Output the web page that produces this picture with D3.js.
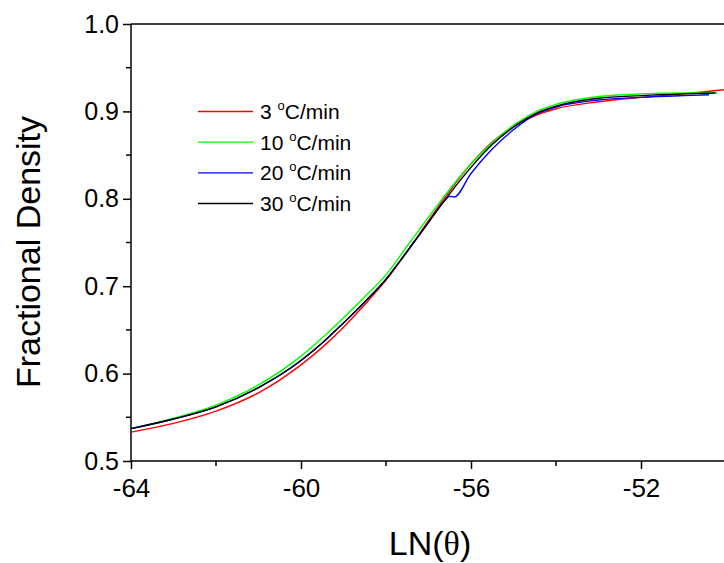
<!DOCTYPE html>
<html>
<head>
<meta charset="utf-8">
<script src="https://cdn.jsdelivr.net/npm/d3@7"></script>
<style>
    body { margin: 0; background: #fff; }
    text { font-family: Arial, "Liberation Sans", sans-serif; fill: #000; }
</style>
</head>
<body>
<div id="visualizationTarget"></div>
<script>
var lnTheta3 = [-64, -63, -62, -61, -60, -59.5, -59, -58.5, -58, -57.5, -57, -56.5, -56, -55.5, -55, -54.5, -54, -53, -52, -51, -50];
var density3 = [0.533, 0.543, 0.557, 0.578, 0.610, 0.630, 0.653, 0.679, 0.707, 0.740, 0.775, 0.809, 0.840, 0.865, 0.883, 0.895, 0.903, 0.911, 0.916, 0.920, 0.925];

var lnTheta10 = [-64, -63, -62, -61, -60, -59.5, -59, -58.5, -58, -57.5, -57, -56.5, -56, -55.5, -55, -54.5, -54, -53, -52, -51, -50.2];
var density10 = [0.537, 0.549, 0.564, 0.587, 0.620, 0.641, 0.664, 0.688, 0.713, 0.746, 0.779, 0.811, 0.840, 0.864, 0.884, 0.899, 0.908, 0.917, 0.920, 0.921, 0.921];

var lnTheta20 = [-64, -63, -62, -61, -60, -59.5, -59, -58.5, -58, -57.5, -57, -56.6, -56.5, -56.4, -56, -55.5, -55, -54.5, -54, -53, -52, -51, -50.4];
var density20 = [0.537, 0.548, 0.562, 0.584, 0.615, 0.635, 0.658, 0.682, 0.708, 0.740, 0.773, 0.799, 0.803, 0.802, 0.829, 0.857, 0.879, 0.896, 0.905, 0.913, 0.916, 0.918, 0.919];

var lnTheta30 = [-64, -63, -62, -61, -60, -59.5, -59, -58.5, -58, -57.5, -57, -56.5, -56, -55.5, -55, -54.5, -54, -53, -52, -51, -50.25];
var density30 = [0.537, 0.548, 0.562, 0.584, 0.615, 0.635, 0.658, 0.682, 0.708, 0.740, 0.773, 0.806, 0.836, 0.862, 0.882, 0.897, 0.906, 0.915, 0.918, 0.920, 0.921];

var seriesRates = ["3", "10", "20", "30"];
var seriesColors = ["#ff0000", "#00ff00", "#0000ff", "#000000"];

var xMajorTicks = [-64, -60, -56, -52];
var xMinorTicks = [-62, -58, -54, -50];
var yMajorTicks = [0.5, 0.6, 0.7, 0.8, 0.9, 1.0];
var yMinorTicks = [0.55, 0.65, 0.75, 0.85, 0.95];

var width = 724;
var height = 563;

var x = d3.scaleLinear().domain([-64, -50]).range([131, 726]);
var y = d3.scaleLinear().domain([0.5, 1.0]).range([461, 24]);

var svg = d3.select("#visualizationTarget")
    .append("svg")
    .attr("width", width)
    .attr("height", height);

// top frame line
svg.append("line")
    .attr("x1", x(-64)).attr("x2", width + 5)
    .attr("y1", y(1.0)).attr("y2", y(1.0))
    .attr("stroke", "#000").attr("stroke-width", 1.5);

// left axis
var yAxis = svg.append("g")
    .attr("transform", "translate(" + x(-64) + ",0)")
    .call(d3.axisLeft(y).tickValues(yMajorTicks).tickSize(8).tickPadding(4)
        .tickFormat(d3.format(".1f")));
yAxis.selectAll("text").style("font-size", "25px");
yAxis.append("g")
    .selectAll("line")
    .data(yMinorTicks)
    .enter()
        .append("line")
        .attr("x1", -5).attr("x2", 0)
        .attr("y1", function(d){ return y(d); })
        .attr("y2", function(d){ return y(d); })
        .attr("stroke", "#000").attr("stroke-width", 1.5);

// bottom axis, plain hyphen for the minus sign like the original
var xAxis = svg.append("g")
    .attr("transform", "translate(0," + y(0.5) + ")")
    .call(d3.axisBottom(x).tickValues(xMajorTicks).tickSize(8).tickPadding(10)
        .tickFormat(function(d){ return String(d); }));
xAxis.selectAll("text").style("font-size", "26px");
xAxis.append("g")
    .selectAll("line")
    .data(xMinorTicks)
    .enter()
        .append("line")
        .attr("x1", function(d){ return x(d); })
        .attr("x2", function(d){ return x(d); })
        .attr("y1", 0).attr("y2", 5)
        .attr("stroke", "#000").attr("stroke-width", 1.5);

svg.selectAll(".domain").attr("stroke-width", 1.5);
svg.selectAll(".tick line").attr("stroke-width", 1.5);
// drop the outer end caps of the domain paths
yAxis.select(".domain").attr("d", "M0," + y(1.0) + "V" + y(0.5));
xAxis.select(".domain").attr("d", "M" + x(-64) + ",0H" + (width + 5));

var line = d3.line()
    .x(function(d){ return x(d[0]); })
    .y(function(d){ return y(d[1]); })
    .curve(d3.curveMonotoneX);

var curves = [
    d3.zip(lnTheta3, density3),
    d3.zip(lnTheta10, density10),
    d3.zip(lnTheta20, density20),
    d3.zip(lnTheta30, density30)
];

svg.append("g")
    .selectAll("path")
    .data(curves)
    .enter()
        .append("path")
        .attr("fill", "none")
        .attr("stroke", function(d, i){ return seriesColors[i]; })
        .attr("stroke-width", 1.4)
        .attr("d", function(d){ return line(d); });

// legend
var legendRows = seriesRates.map(function(r, i){ return {rate: r, color: seriesColors[i], row: i}; });
var rowY = d3.scaleLinear().domain([0, 3]).range([111.5, 203.5]);

var legend = svg.append("g").attr("class", "legend");

legend.selectAll("line.key")
    .data(legendRows)
    .enter()
        .append("line")
        .attr("class", "key")
        .attr("x1", 198).attr("x2", 253)
        .attr("y1", function(d){ return rowY(d.row); })
        .attr("y2", function(d){ return rowY(d.row); })
        .style("stroke", function(d){ return d.color; })
        .style("stroke-width", 1.3);

var labels = legend.selectAll("text.key")
    .data(legendRows)
    .enter()
        .append("text")
        .attr("class", "key")
        .attr("x", 260)
        .attr("y", function(d){ return rowY(d.row) + 7.5; })
        .style("font-size", "21px");
labels.append("tspan").text(function(d){ return d.rate + " "; });
labels.append("tspan").attr("dy", -9).style("font-size", "13px").text("o");
labels.append("tspan").attr("dy", 9).text("C/min");

// axis titles
svg.append("text")
    .attr("transform", "translate(40,252) rotate(-90)")
    .attr("text-anchor", "middle")
    .style("font-size", "34px")
    .text("Fractional Density");

var xTitle = svg.append("text")
    .attr("x", 430)
    .attr("y", 555)
    .attr("text-anchor", "middle")
    .style("font-size", "34px");
xTitle.append("tspan").text("LN(");
xTitle.append("tspan").style("font-family", "'Liberation Serif', 'DejaVu Serif', serif").text("θ");
xTitle.append("tspan").text(")");
</script>
</body>
</html>
